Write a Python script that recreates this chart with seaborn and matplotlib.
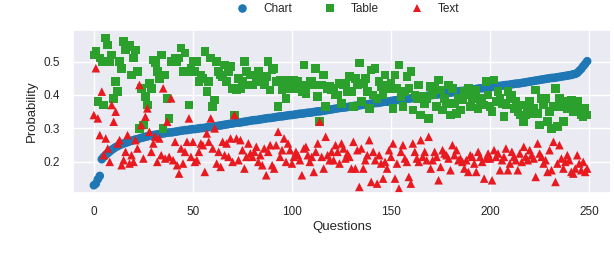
import numpy as np
import pandas as pd
import matplotlib
matplotlib.use("Agg")
import matplotlib.pyplot as plt
import seaborn as sns

# --- data (one value per question) ---
chart = [
    0.130, 0.135, 0.148, 0.158, 0.208, 0.215, 0.221, 0.226, 0.231, 0.236,
    0.240, 0.244, 0.247, 0.250, 0.253, 0.255, 0.257, 0.259, 0.261, 0.263,
    0.265, 0.267, 0.268, 0.270, 0.272, 0.273, 0.275, 0.276, 0.278, 0.279,
    0.280, 0.281, 0.282, 0.283, 0.284, 0.285, 0.286, 0.287, 0.288, 0.288,
    0.289, 0.290, 0.291, 0.292, 0.293, 0.294, 0.295, 0.295, 0.296, 0.297,
    0.298, 0.298, 0.299, 0.300, 0.301, 0.301, 0.302, 0.303, 0.304, 0.304,
    0.305, 0.306, 0.307, 0.308, 0.309, 0.310, 0.311, 0.312, 0.313, 0.314,
    0.315, 0.316, 0.317, 0.317, 0.318, 0.319, 0.320, 0.321, 0.322, 0.323,
    0.324, 0.325, 0.325, 0.326, 0.327, 0.328, 0.329, 0.330, 0.331, 0.331,
    0.332, 0.333, 0.334, 0.335, 0.336, 0.336, 0.337, 0.338, 0.339, 0.340,
    0.340, 0.341, 0.342, 0.343, 0.344, 0.344, 0.345, 0.346, 0.347, 0.347,
    0.348, 0.349, 0.350, 0.351, 0.351, 0.352, 0.353, 0.354, 0.355, 0.356,
    0.357, 0.358, 0.359, 0.360, 0.361, 0.362, 0.362, 0.363, 0.364, 0.365,
    0.366, 0.367, 0.368, 0.368, 0.369, 0.370, 0.371, 0.372, 0.372, 0.373,
    0.374, 0.375, 0.376, 0.376, 0.377, 0.378, 0.379, 0.380, 0.380, 0.381,
    0.382, 0.383, 0.384, 0.385, 0.385, 0.386, 0.387, 0.388, 0.389, 0.389,
    0.390, 0.391, 0.392, 0.393, 0.394, 0.395, 0.395, 0.396, 0.397, 0.398,
    0.399, 0.400, 0.401, 0.401, 0.402, 0.403, 0.404, 0.405, 0.406, 0.407,
    0.407, 0.408, 0.409, 0.410, 0.411, 0.412, 0.412, 0.413, 0.414, 0.415,
    0.416, 0.417, 0.417, 0.418, 0.419, 0.420, 0.420, 0.421, 0.422, 0.423,
    0.424, 0.424, 0.425, 0.426, 0.427, 0.427, 0.428, 0.429, 0.430, 0.430,
    0.431, 0.432, 0.433, 0.434, 0.434, 0.435, 0.436, 0.437, 0.438, 0.439,
    0.440, 0.441, 0.442, 0.443, 0.444, 0.445, 0.446, 0.447, 0.448, 0.449,
    0.450, 0.451, 0.451, 0.452, 0.453, 0.454, 0.455, 0.456, 0.457, 0.458,
    0.459, 0.460, 0.462, 0.463, 0.466, 0.472, 0.478, 0.486, 0.493, 0.501,
]

table = [
    0.52, 0.53, 0.38, 0.51, 0.50, 0.37, 0.57, 0.55, 0.50, 0.52,
    0.39, 0.44, 0.41, 0.50, 0.48, 0.56, 0.535, 0.545, 0.55, 0.46,
    0.51, 0.535, 0.47, 0.30, 0.42, 0.31, 0.395, 0.37, 0.435, 0.42,
    0.505, 0.495, 0.47, 0.45, 0.52, 0.30, 0.46, 0.39, 0.33, 0.50,
    0.50, 0.51, 0.50, 0.51, 0.54, 0.47, 0.525, 0.47, 0.37, 0.48,
    0.50, 0.47, 0.50, 0.44, 0.46, 0.45, 0.53, 0.41, 0.44, 0.51,
    0.365, 0.385, 0.50, 0.47, 0.46, 0.455, 0.49, 0.44, 0.47, 0.485,
    0.42, 0.34, 0.415, 0.45, 0.42, 0.44, 0.50, 0.47, 0.43, 0.46,
    0.43, 0.46, 0.44, 0.47, 0.44, 0.445, 0.43, 0.455, 0.50, 0.415,
    0.475, 0.48, 0.44, 0.365, 0.445, 0.415, 0.42, 0.39, 0.445, 0.42,
    0.43, 0.445, 0.42, 0.44, 0.43, 0.41, 0.49, 0.405, 0.43, 0.44,
    0.44, 0.43, 0.48, 0.395, 0.32, 0.43, 0.46, 0.365, 0.42, 0.425,
    0.415, 0.42, 0.40, 0.40, 0.435, 0.375, 0.43, 0.435, 0.41, 0.455,
    0.41, 0.365, 0.45, 0.43, 0.495, 0.38, 0.435, 0.45, 0.41, 0.36,
    0.475, 0.40, 0.48, 0.39, 0.44, 0.425, 0.40, 0.46, 0.43, 0.42,
    0.435, 0.36, 0.46, 0.42, 0.49, 0.395, 0.365, 0.41, 0.455, 0.42,
    0.47, 0.355, 0.40, 0.39, 0.43, 0.34, 0.395, 0.375, 0.39, 0.33,
    0.425, 0.40, 0.42, 0.365, 0.445, 0.415, 0.355, 0.39, 0.375, 0.43,
    0.34, 0.42, 0.375, 0.345, 0.39, 0.355, 0.385, 0.41, 0.40, 0.42,
    0.365, 0.39, 0.40, 0.415, 0.36, 0.38, 0.39, 0.37, 0.44, 0.40,
    0.365, 0.35, 0.445, 0.38, 0.41, 0.39, 0.375, 0.335, 0.37, 0.41,
    0.39, 0.40, 0.36, 0.38, 0.35, 0.34, 0.37, 0.32, 0.34, 0.365,
    0.38, 0.345, 0.36, 0.415, 0.345, 0.31, 0.39, 0.37, 0.39, 0.32,
    0.35, 0.30, 0.365, 0.42, 0.305, 0.39, 0.365, 0.32, 0.38, 0.36,
    0.37, 0.385, 0.35, 0.365, 0.38, 0.36, 0.34, 0.335, 0.36, 0.34,
]

text = [
    0.34, 0.48, 0.33, 0.28, 0.41, 0.22, 0.27, 0.24, 0.20, 0.37,
    0.32, 0.35, 0.255, 0.265, 0.19, 0.205, 0.23, 0.28, 0.195, 0.22,
    0.20, 0.265, 0.24, 0.43, 0.31, 0.21, 0.335, 0.36, 0.29, 0.23,
    0.255, 0.275, 0.20, 0.27, 0.22, 0.42, 0.21, 0.32, 0.215, 0.39,
    0.205, 0.26, 0.19, 0.165, 0.24, 0.195, 0.23, 0.26, 0.33, 0.215,
    0.26, 0.20, 0.205, 0.23, 0.255, 0.25, 0.17, 0.285, 0.26, 0.33,
    0.24, 0.30, 0.195, 0.23, 0.185, 0.26, 0.22, 0.255, 0.215, 0.27,
    0.20, 0.34, 0.27, 0.205, 0.265, 0.235, 0.18, 0.215, 0.255, 0.225,
    0.215, 0.23, 0.245, 0.20, 0.22, 0.19, 0.24, 0.16, 0.23, 0.25,
    0.19, 0.18, 0.25, 0.29, 0.215, 0.235, 0.27, 0.20, 0.255, 0.235,
    0.195, 0.215, 0.23, 0.22, 0.205, 0.16, 0.24, 0.245, 0.22, 0.20,
    0.215, 0.17, 0.23, 0.255, 0.32, 0.215, 0.18, 0.275, 0.22, 0.205,
    0.23, 0.205, 0.25, 0.23, 0.195, 0.255, 0.24, 0.21, 0.225, 0.215,
    0.18, 0.26, 0.18, 0.235, 0.125, 0.24, 0.18, 0.205, 0.22, 0.265,
    0.14, 0.23, 0.205, 0.135, 0.22, 0.195, 0.15, 0.20, 0.18, 0.235,
    0.215, 0.255, 0.15, 0.195, 0.12, 0.23, 0.25, 0.21, 0.20, 0.155,
    0.135, 0.255, 0.23, 0.21, 0.20, 0.265, 0.215, 0.23, 0.205, 0.275,
    0.18, 0.205, 0.23, 0.215, 0.145, 0.185, 0.235, 0.225, 0.22, 0.21,
    0.175, 0.25, 0.22, 0.235, 0.205, 0.21, 0.20, 0.18, 0.205, 0.17,
    0.22, 0.215, 0.195, 0.17, 0.23, 0.215, 0.20, 0.15, 0.21, 0.225,
    0.21, 0.145, 0.235, 0.215, 0.225, 0.175, 0.205, 0.215, 0.24, 0.175,
    0.195, 0.23, 0.215, 0.205, 0.175, 0.225, 0.20, 0.245, 0.215, 0.205,
    0.235, 0.22, 0.21, 0.155, 0.255, 0.225, 0.215, 0.195, 0.205, 0.17,
    0.235, 0.175, 0.26, 0.14, 0.195, 0.25, 0.21, 0.18, 0.20, 0.22,
    0.205, 0.17, 0.165, 0.18, 0.22, 0.195, 0.175, 0.20, 0.17, 0.18,
]

series_names = ["Chart", "Table", "Text"]
colors = {"Chart": "#1f77b4", "Table": "#2ca02c", "Text": "#e8191f"}
markers = {"Chart": "o", "Table": "s", "Text": "^"}

# long format for seaborn, drawn in order Chart -> Table -> Text
frames = []
for name, vals in zip(series_names, [chart, table, text]):
    frames.append(pd.DataFrame({"Questions": np.arange(len(vals)),
                                "Probability": vals,
                                "Type": name}))
df = pd.concat(frames, ignore_index=True)

sns.set_theme(style="darkgrid")
plt.rcParams["font.family"] = ["Liberation Sans", "DejaVu Sans"]

fig = plt.figure(figsize=(6.14, 2.64), dpi=100)
ax = fig.add_axes([0.119, 0.269, 0.876, 0.617])

sns.scatterplot(data=df, x="Questions", y="Probability", hue="Type", style="Type",
                palette=colors, markers=markers, s=38, linewidth=0, ax=ax)

ax.set_xlim(-10.5, 261)
ax.set_ylim(0.107, 0.594)
ax.set_xticks([0, 50, 100, 150, 200, 250])
ax.set_yticks([0.2, 0.3, 0.4, 0.5])
ax.tick_params(labelsize=8.5, colors="#262626")
ax.set_xlabel("Questions", fontsize=9.5, labelpad=2)
ax.set_ylabel("Probability", fontsize=9.5, labelpad=4)

ax.legend(title=None, loc="lower center", bbox_to_anchor=(0.505, 1.065), ncol=3,
          frameon=False, fontsize=8.5, columnspacing=2.2, borderaxespad=0.0)

fig.savefig("out.png", dpi=100)
